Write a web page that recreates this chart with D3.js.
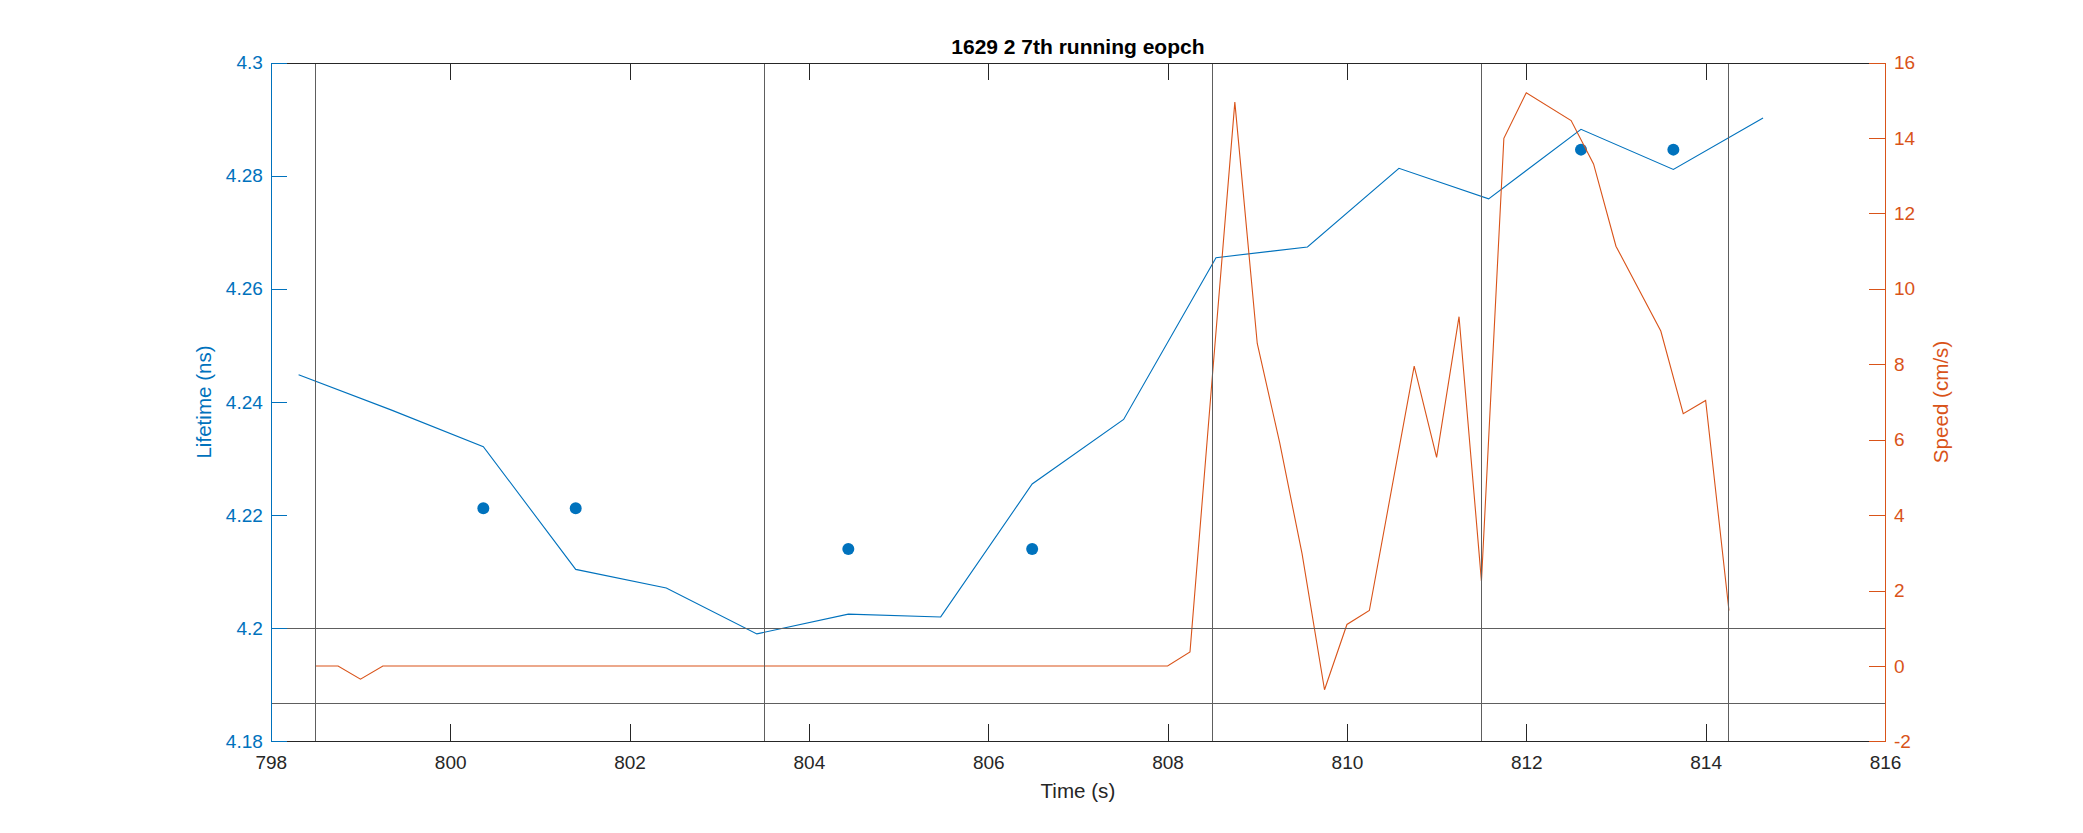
<!DOCTYPE html>
<html>
<head>
<meta charset="utf-8">
<script src="https://cdn.jsdelivr.net/npm/d3@7/dist/d3.min.js"></script>
<style>
  body { margin: 0; background: #fff; overflow: hidden; }
  svg { display: block; }
  .axis .domain, .axis line { shape-rendering: crispEdges; }
</style>
</head>
<body>
<svg width="2083" height="833"></svg>
<script>
  // lifetime trace (left axis)
  const lifetimeTimes = [798.31, 799.34, 800.37, 801.40, 802.41, 803.42, 804.44, 805.47,
    806.49, 807.51, 808.54, 809.56, 810.58, 811.58, 812.61, 813.64, 814.64];
  const lifetimeValues = [4.2448, 4.2386, 4.2321, 4.2104, 4.2071, 4.1990, 4.2025, 4.2020,
    4.2255, 4.2369, 4.2655, 4.2674, 4.2813, 4.2759, 4.2882, 4.2811, 4.2902];

  // epoch mean markers
  const dotTimes = [800.37, 801.40, 804.44, 806.49, 812.61, 813.64];
  const dotValues = [4.2212, 4.2212, 4.2140, 4.2140, 4.2846, 4.2846];

  // speed trace (right axis)
  const speedTimes = [798.5, 798.75, 799.0, 799.25, 808.0, 808.25, 808.5, 808.75, 809.0,
    809.25, 809.5, 809.75, 810.0, 810.25, 810.75, 811.0, 811.25, 811.5, 811.75, 812.0,
    812.5, 812.75, 813.0, 813.5, 813.75, 814.0, 814.26];
  const speedValues = [0, 0, -0.35, 0, 0, 0.37, 7.7, 14.95, 8.55, 5.92, 2.97, -0.63,
    1.1, 1.47, 7.95, 5.53, 9.26, 2.25, 13.99, 15.2, 14.46, 13.31, 11.13, 8.88, 6.69,
    7.04, 1.47];

  // epoch boundaries and speed thresholds
  const epochLines = [798.5, 803.5, 808.5, 811.5, 814.26];
  const speedThresholds = [1, -1];

  const xTicks = [798, 800, 802, 804, 806, 808, 810, 812, 814, 816];
  const lifetimeTicks = [4.18, 4.2, 4.22, 4.24, 4.26, 4.28, 4.3];
  const speedTicks = [-2, 0, 2, 4, 6, 8, 10, 12, 14, 16];

  const blue = '#0072BD';
  const orange = '#D95319';
  const dark = '#262626';
  const fontFamily = '"Liberation Sans", Arial, sans-serif';

  const svg = d3.select('svg');
  const width = +svg.attr('width');
  const height = +svg.attr('height');

  const margin = { top: 62.5, right: 198, bottom: 91.6, left: 270.8 };
  const innerWidth = width - margin.left - margin.right;
  const innerHeight = height - margin.top - margin.bottom;

  const xScale = d3.scaleLinear()
    .domain([798, 816])
    .range([0, innerWidth]);

  const yLeft = d3.scaleLinear()
    .domain([4.18, 4.3])
    .range([innerHeight, 0]);

  const yRight = d3.scaleLinear()
    .domain([-2, 16])
    .range([innerHeight, 0]);

  const g = svg.append('g')
      .attr('font-family', fontFamily)
      .attr('transform', `translate(${margin.left},${margin.top})`);

  // lines
  const lifetimeLine = d3.line()
    .x(d => xScale(d[0]))
    .y(d => yLeft(d[1]));

  const speedLine = d3.line()
    .x(d => xScale(d[0]))
    .y(d => yRight(d[1]));

  g.append('path')
      .datum(lifetimeTimes.map((t, i) => [t, lifetimeValues[i]]))
      .attr('fill', 'none')
      .attr('stroke', blue)
      .attr('stroke-width', 1.1)
      .attr('d', lifetimeLine);

  g.selectAll('.dot').data(dotTimes.map((t, i) => [t, dotValues[i]]))
    .enter().append('circle')
      .attr('class', 'dot')
      .attr('cx', d => xScale(d[0]))
      .attr('cy', d => yLeft(d[1]))
      .attr('r', 6)
      .attr('fill', blue);

  g.append('path')
      .datum(speedTimes.map((t, i) => [t, speedValues[i]]))
      .attr('fill', 'none')
      .attr('stroke', orange)
      .attr('stroke-width', 1.1)
      .attr('d', speedLine);

  // reference lines
  g.selectAll('.epoch').data(epochLines)
    .enter().append('line')
      .attr('class', 'epoch')
      .attr('x1', d => xScale(d))
      .attr('x2', d => xScale(d))
      .attr('y1', 0)
      .attr('y2', innerHeight)
      .attr('stroke', '#5e5e5e')
      .attr('stroke-width', 1)
      .attr('shape-rendering', 'crispEdges');

  g.selectAll('.thresh').data(speedThresholds)
    .enter().append('line')
      .attr('class', 'thresh')
      .attr('x1', 0)
      .attr('x2', innerWidth)
      .attr('y1', d => yRight(d))
      .attr('y2', d => yRight(d))
      .attr('stroke', '#5e5e5e')
      .attr('stroke-width', 1)
      .attr('shape-rendering', 'crispEdges');

  // axes
  const styleAxis = (axisG, color) => {
    axisG
        .attr('font-size', 19)
        .attr('font-family', fontFamily);
    axisG.selectAll('line, .domain').attr('stroke', color);
    axisG.selectAll('text').attr('fill', color);
  };

  const xAxisG = g.append('g')
      .attr('class', 'axis')
      .attr('transform', `translate(0,${innerHeight})`)
      .call(d3.axisBottom(xScale)
        .tickValues(xTicks)
        .tickFormat(d => String(d))
        .tickSize(-17)
        .tickSizeOuter(0)
        .tickPadding(14));
  styleAxis(xAxisG, dark);

  const topAxisG = g.append('g')
      .attr('class', 'axis')
      .call(d3.axisTop(xScale)
        .tickValues(xTicks)
        .tickFormat('')
        .tickSize(-17)
        .tickSizeOuter(0));
  topAxisG.selectAll('text').remove();
  styleAxis(topAxisG, dark);

  const leftAxisG = g.append('g')
      .attr('class', 'axis')
      .call(d3.axisLeft(yLeft)
        .tickValues(lifetimeTicks)
        .tickFormat(d => String(+d.toFixed(2)))
        .tickSize(-16)
        .tickSizeOuter(0)
        .tickPadding(8));
  styleAxis(leftAxisG, blue);

  const rightAxisG = g.append('g')
      .attr('class', 'axis')
      .attr('transform', `translate(${innerWidth},0)`)
      .call(d3.axisRight(yRight)
        .tickValues(speedTicks)
        .tickFormat(d => String(d))
        .tickSize(-16)
        .tickSizeOuter(0)
        .tickPadding(9));
  styleAxis(rightAxisG, orange);

  // labels
  g.append('text')
      .attr('x', innerWidth / 2)
      .attr('y', 54 - margin.top)
      .attr('text-anchor', 'middle')
      .attr('font-weight', 'bold')
      .attr('font-size', 21)
      .attr('fill', '#000')
      .text('1629 2 7th running eopch');

  g.append('text')
      .attr('x', innerWidth / 2)
      .attr('y', innerHeight + 57)
      .attr('text-anchor', 'middle')
      .attr('font-size', 20.6)
      .attr('fill', dark)
      .text('Time (s)');

  g.append('text')
      .attr('transform', `translate(-60,${innerHeight / 2}) rotate(-90)`)
      .attr('text-anchor', 'middle')
      .attr('font-size', 20.6)
      .attr('fill', blue)
      .text('Lifetime (ns)');

  g.append('text')
      .attr('transform', `translate(${innerWidth + 63},${innerHeight / 2}) rotate(-90)`)
      .attr('text-anchor', 'middle')
      .attr('font-size', 20.6)
      .attr('fill', orange)
      .text('Speed (cm/s)');
</script>
</body>
</html>
